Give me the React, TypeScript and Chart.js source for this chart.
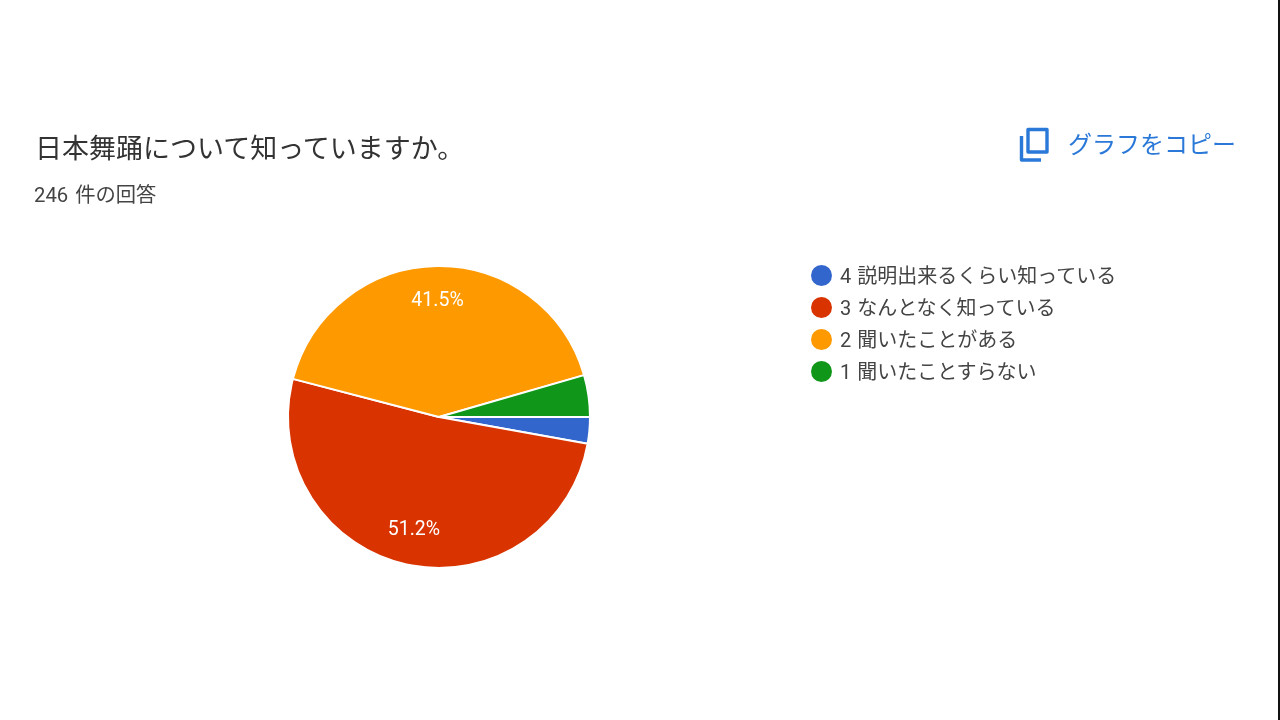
import React, { useEffect, useRef } from "react";
import { Chart, registerables } from "chart.js";

Chart.register(...registerables);

const titleText = "日本舞踊について知っていますか。";
const subtitleText = "246 件の回答";
const copyText = "グラフをコピー";
const categories = ["4 説明出来るくらい知っている", "3 なんとなく知っている", "2 聞いたことがある", "1 聞いたことすらない"];
const counts = [7, 126, 102, 11];
const percentLabels = ["", "51.2%", "41.5%", ""];
const colors = ["#3366cc", "#d93400", "#ff9900", "#109618"];
const FONT = 'Roboto, "Noto Sans CJK JP", sans-serif';

const sliceLabels = {
  id: "sliceLabels",
  afterDatasetsDraw(chart: any) {
    const { ctx } = chart;
    const arcs = chart.getDatasetMeta(0).data;
    ctx.save();
    ctx.font = `19.5px ${FONT}`;
    ctx.fillStyle = "#ffffff";
    ctx.textAlign = "center";
    ctx.textBaseline = "middle";
    arcs.forEach((arc: any, i: number) => {
      if (!percentLabels[i]) return;
      const mid = (arc.startAngle + arc.endAngle) / 2;
      const r = arc.outerRadius * 0.77;
      ctx.fillText(percentLabels[i], arc.x + Math.cos(mid) * r, arc.y + Math.sin(mid) * r);
    });
    ctx.restore();
  },
};

const abs = (left: number, top: number, extra: React.CSSProperties = {}): React.CSSProperties => ({
  position: "absolute",
  left,
  top,
  whiteSpace: "nowrap",
  lineHeight: 1,
  fontFamily: FONT,
  filter: "blur(0.5px)",
  ...extra,
});

export default function App() {
  const ref = useRef<HTMLCanvasElement>(null);
  useEffect(() => {
    document.body.style.margin = "0";
    document.body.style.background = "#ffffff";
    const chart = new Chart(ref.current!, {
      type: "pie",
      data: {
        labels: categories,
        datasets: [{ data: counts, backgroundColor: colors, borderColor: "#ffffff", borderWidth: 2 }],
      },
      options: {
        animation: false,
        responsive: false,
        rotation: 90,
        layout: { padding: { left: 287, right: 689, top: 265, bottom: 151 } },
        plugins: { legend: { display: false }, tooltip: { enabled: false } },
      },
      plugins: [sliceLabels],
    });
    return () => chart.destroy();
  }, []);

  return (
    <div style={{ position: "relative", width: 1280, height: 720, overflow: "hidden", background: "#fff" }}>
      <canvas ref={ref} width={1280} height={720} style={{ position: "absolute", left: 0, top: 0, width: 1280, height: 720, filter: "blur(0.4px)" }} />
      <div style={abs(35, 136, { fontSize: 27, color: "#333333" })}>{titleText}</div>
      <div style={abs(34, 185, { fontSize: 20.3, color: "#444444", wordSpacing: 2 })}>{subtitleText}</div>
      <svg width="32" height="36" viewBox="0 0 32 36" style={{ position: "absolute", left: 1019, top: 127, filter: "blur(0.4px)" }}>
        <path d="M9 2.5 H28 V25 H9 Z" fill="none" stroke="#2a78d8" strokeWidth="3.4" strokeLinejoin="round" />
        <path d="M2.5 9 V33 H22" fill="none" stroke="#2a78d8" strokeWidth="3.4" strokeLinejoin="round" />
      </svg>
      <div style={abs(1068, 133, { fontSize: 24, color: "#2a78d8" })}>{copyText}</div>
      {categories.map((c, i) => (
        <React.Fragment key={c}>
          <div style={{ position: "absolute", left: 811, top: 265 + i * 32, width: 21, height: 21, borderRadius: "50%", background: colors[i] }} />
          <div style={abs(840, 266 + i * 32, { fontSize: 20, color: "#444444", wordSpacing: 1 })}>{c}</div>
        </React.Fragment>
      ))}
      <div style={{ position: "absolute", left: 1278, top: 0, width: 2, height: 720, background: "#111111" }} />
    </div>
  );
}
